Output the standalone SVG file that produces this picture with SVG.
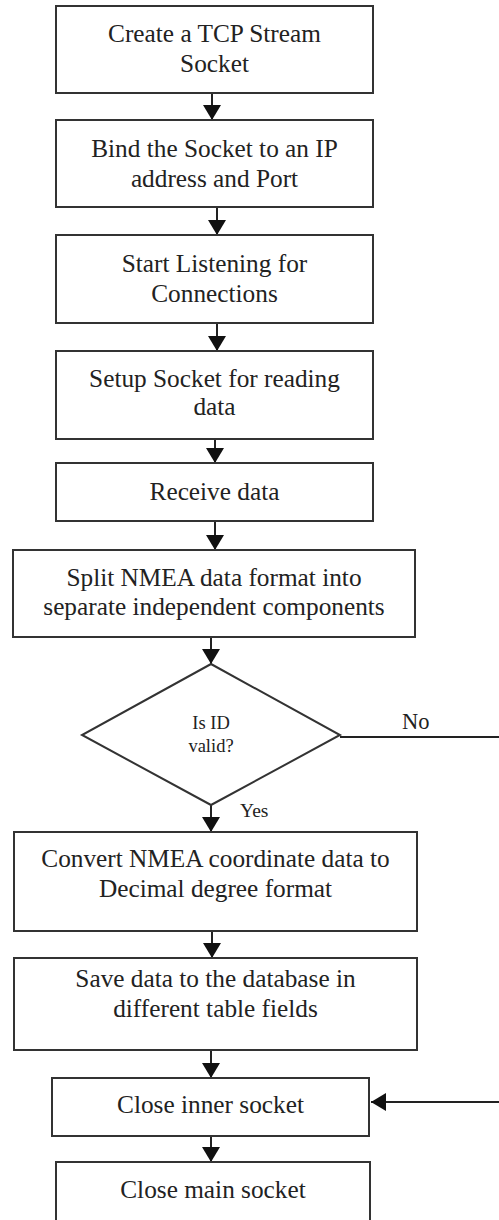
<svg xmlns="http://www.w3.org/2000/svg" width="499" height="1220" viewBox="0 0 499 1220">
  <defs>
    <marker id="arrow" viewBox="0 0 15 18" refX="15" refY="9" markerWidth="15" markerHeight="18" markerUnits="userSpaceOnUse" orient="auto">
      <path d="M0,0 L15,9 L0,18 Z" fill="#111"/>
    </marker>
    <style>
      text { font-family: "Liberation Serif", "Times New Roman", serif; fill: #222; }
      .box { fill: #fff; stroke: #333; stroke-width: 2; }
      .lbl { font-size: 25.3px; text-anchor: middle; }
      .dia { font-size: 18.5px; text-anchor: middle; }
      .conn { stroke: #222; stroke-width: 2; fill: none; }
    </style>
  </defs>
  <rect width="499" height="1220" fill="#fff"/>

  <g id="connectors">
    <line class="conn" x1="212" y1="93" x2="212" y2="120" marker-end="url(#arrow)"/>
    <line class="conn" x1="217" y1="207" x2="217" y2="235" marker-end="url(#arrow)"/>
    <line class="conn" x1="217" y1="323" x2="217" y2="351" marker-end="url(#arrow)"/>
    <line class="conn" x1="215" y1="439" x2="215" y2="463" marker-end="url(#arrow)"/>
    <line class="conn" x1="215" y1="521" x2="215" y2="550" marker-end="url(#arrow)"/>
    <line class="conn" x1="211" y1="637" x2="211" y2="664" marker-end="url(#arrow)"/>
    <line class="conn" x1="211" y1="805" x2="211" y2="832" marker-end="url(#arrow)"/>
    <line class="conn" x1="212" y1="931" x2="212" y2="958" marker-end="url(#arrow)"/>
    <line class="conn" x1="211" y1="1050" x2="211" y2="1078" marker-end="url(#arrow)"/>
    <line class="conn" x1="211" y1="1136" x2="211" y2="1162" marker-end="url(#arrow)"/>
    <!-- "No" branch leaves to the right edge and comes back into the inner-socket close -->
    <line class="conn" x1="340" y1="737" x2="499" y2="737"/>
    <line class="conn" x1="499" y1="1102" x2="371" y2="1102" marker-end="url(#arrow)"/>
    <text x="402" y="729" font-size="22.5">No</text>
    <text x="240" y="817" font-size="19.5">Yes</text>
  </g>

  <g id="create-socket">
    <rect class="box" x="56" y="6" width="317" height="87"/>
    <text class="lbl" x="214.5" y="42">Create a TCP Stream</text>
    <text class="lbl" x="214.5" y="72">Socket</text>
  </g>

  <g id="bind-socket">
    <rect class="box" x="56" y="120" width="317" height="87"/>
    <text class="lbl" x="214.5" y="157">Bind the Socket to an IP</text>
    <text class="lbl" x="214.5" y="187">address and Port</text>
  </g>

  <g id="listen">
    <rect class="box" x="56" y="235" width="317" height="88"/>
    <text class="lbl" x="214.5" y="272">Start Listening for</text>
    <text class="lbl" x="214.5" y="302">Connections</text>
  </g>

  <g id="setup-read">
    <rect class="box" x="56" y="351" width="317" height="88"/>
    <text class="lbl" x="214.5" y="387">Setup Socket for reading</text>
    <text class="lbl" x="214.5" y="415">data</text>
  </g>

  <g id="receive">
    <rect class="box" x="56" y="463" width="317" height="58"/>
    <text class="lbl" x="214.5" y="500">Receive data</text>
  </g>

  <g id="split">
    <rect class="box" x="13" y="550" width="402" height="87"/>
    <text class="lbl" x="214" y="586">Split NMEA data format into</text>
    <text class="lbl" x="214" y="615">separate independent components</text>
  </g>

  <g id="id-valid">
    <polygon class="box" points="211,664 340,735 211,805 82,735"/>
    <text class="dia" x="211" y="729">Is ID</text>
    <text class="dia" x="211" y="752">valid?</text>
  </g>

  <g id="convert">
    <rect class="box" x="14" y="832" width="403" height="99"/>
    <text class="lbl" x="215.5" y="867">Convert NMEA coordinate data to</text>
    <text class="lbl" x="215.5" y="897">Decimal degree format</text>
  </g>

  <g id="save">
    <rect class="box" x="14" y="958" width="403" height="92"/>
    <text class="lbl" x="215.5" y="987">Save data to the database in</text>
    <text class="lbl" x="215.5" y="1017">different table fields</text>
  </g>

  <g id="close-inner">
    <rect class="box" x="52" y="1078" width="317" height="58"/>
    <text class="lbl" x="210.5" y="1113">Close inner socket</text>
  </g>

  <g id="close-main">
    <rect class="box" x="56" y="1162" width="314" height="70"/>
    <text class="lbl" x="213" y="1198">Close main socket</text>
  </g>
</svg>
